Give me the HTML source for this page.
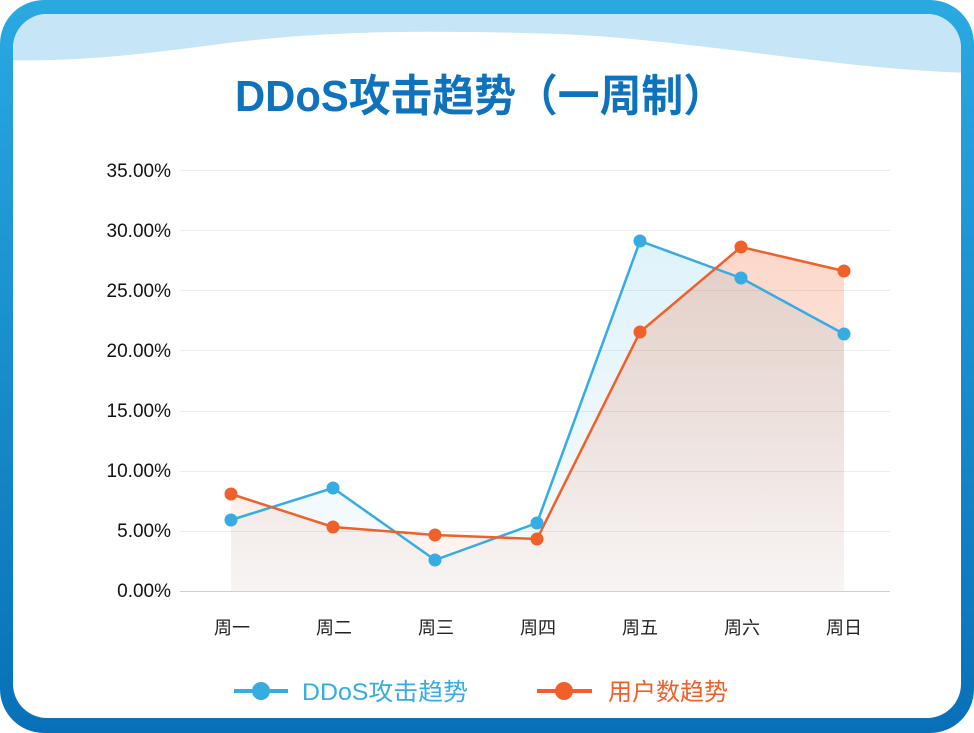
<!DOCTYPE html>
<html><head><meta charset="utf-8"><style>
html,body{margin:0;padding:0;background:#fff}
svg{display:block}
text{font-family:"Liberation Sans","Noto Sans CJK SC",sans-serif}
</style></head><body>
<svg width="974" height="733" viewBox="0 0 974 733" xmlns="http://www.w3.org/2000/svg">
<defs>
<linearGradient id="fr" x1="0" y1="0" x2="0" y2="1"><stop offset="0" stop-color="#2aa9e1"/><stop offset="1" stop-color="#0870b8"/></linearGradient>
<linearGradient id="fb" x1="0" y1="0" x2="0" y2="1"><stop offset="0" stop-color="#2aa9e1" stop-opacity="0.15"/><stop offset="1" stop-color="#2aa9e1" stop-opacity="0.03"/></linearGradient>
<linearGradient id="fo" x1="0" y1="0" x2="0" y2="1"><stop offset="0" stop-color="#f0602a" stop-opacity="0.25"/><stop offset="1" stop-color="#f0602a" stop-opacity="0.05"/></linearGradient>
<clipPath id="ip"><rect x="13" y="14" width="948" height="704" rx="34"/></clipPath>
</defs>
<rect x="0" y="0" width="974" height="733" rx="44" fill="url(#fr)"/>
<rect x="13" y="14" width="948" height="704" rx="34" fill="#fff"/>
<g clip-path="url(#ip)">
<path d="M0 0 H974 V73 C840 70 700 40 560 34 C430 30 330 30 220 44 C130 56 70 62 0 60 Z" fill="#c6e5f6"/>
</g>
<text x="480" y="111" text-anchor="middle" font-size="44" font-weight="bold" fill="#0e72bd" textLength="490" lengthAdjust="spacingAndGlyphs">DDoS攻击趋势（一周制）</text>
<g stroke="#ececec" stroke-width="1">
<line x1="180" y1="170.5" x2="890" y2="170.5"/><line x1="180" y1="230.5" x2="890" y2="230.5"/>
<line x1="180" y1="290.5" x2="890" y2="290.5"/><line x1="180" y1="350.5" x2="890" y2="350.5"/>
<line x1="180" y1="411.5" x2="890" y2="411.5"/><line x1="180" y1="471.5" x2="890" y2="471.5"/>
<line x1="180" y1="531.5" x2="890" y2="531.5"/>
</g>
<line x1="180" y1="591.5" x2="890" y2="591.5" stroke="#d0d0d0"/>
<g font-size="19" fill="#111" text-anchor="end">
<text x="171" y="177">35.00%</text><text x="171" y="237">30.00%</text><text x="171" y="297">25.00%</text>
<text x="171" y="357">20.00%</text><text x="171" y="417">15.00%</text><text x="171" y="477">10.00%</text>
<text x="171" y="537">5.00%</text><text x="171" y="597">0.00%</text>
</g>
<g font-size="18" fill="#222" text-anchor="middle">
<text x="232" y="634">周一</text><text x="334" y="634">周二</text><text x="436" y="634">周三</text><text x="538" y="634">周四</text>
<text x="640" y="634">周五</text><text x="742" y="634">周六</text><text x="844" y="634">周日</text>
</g>
<path d="M231 520 L333 488 L435 560 L537 523 L640 241 L741 278 L844 334 L844 591 L231 591Z" fill="url(#fb)"/>
<path d="M231 494 L333 527 L435 535 L537 539 L640 332 L741 247 L844 271 L844 591 L231 591Z" fill="url(#fo)"/>
<polyline points="231,520 333,488 435,560 537,523 640,241 741,278 844,334" fill="none" stroke="#36ace2" stroke-width="2.5"/>
<polyline points="231,494 333,527 435,535 537,539 640,332 741,247 844,271" fill="none" stroke="#f0602a" stroke-width="2.5"/>
<g fill="#36ace2">
<circle cx="231" cy="520" r="6.5"/><circle cx="333" cy="488" r="6.5"/><circle cx="435" cy="560" r="6.5"/><circle cx="537" cy="523" r="6.5"/>
<circle cx="640" cy="241" r="6.5"/><circle cx="741" cy="278" r="6.5"/><circle cx="844" cy="334" r="6.5"/>
</g>
<g fill="#f0602a">
<circle cx="231" cy="494" r="6.5"/><circle cx="333" cy="527" r="6.5"/><circle cx="435" cy="535" r="6.5"/><circle cx="537" cy="539" r="6.5"/>
<circle cx="640" cy="332" r="6.5"/><circle cx="741" cy="247" r="6.5"/><circle cx="844" cy="271" r="6.5"/>
</g>
<line x1="234" y1="691" x2="288" y2="691" stroke="#36ace2" stroke-width="4"/>
<circle cx="261" cy="691" r="9" fill="#36ace2"/>
<text x="302" y="700" font-size="24" fill="#36ace2" textLength="166" lengthAdjust="spacingAndGlyphs">DDoS攻击趋势</text>
<line x1="537" y1="691" x2="592" y2="691" stroke="#f0602a" stroke-width="4"/>
<circle cx="564" cy="691" r="9" fill="#f0602a"/>
<text x="608" y="700" font-size="24" fill="#f0602a" textLength="120" lengthAdjust="spacingAndGlyphs">用户数趋势</text>
</svg>
</body></html>
